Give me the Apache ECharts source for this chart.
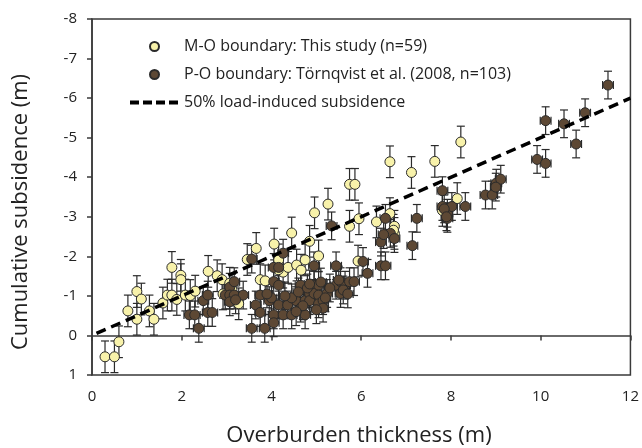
<!DOCTYPE html>
<html lang="en">
<head>
    <meta charset="UTF-8">
    <title>Cumulative subsidence</title>
    <script src="https://cdn.jsdelivr.net/npm/echarts@6/dist/echarts.min.js"></script>
</head>
<body style="margin:0">
<div id="main" style="width: 642px;height:448px;"></div>

<script type="text/javascript">
    // M-O boundary, this study (yellow)
    var moX = [0.29, 0.50, 0.60, 0.80, 1.00, 1.00, 1.10, 1.28, 1.38, 1.58, 1.68, 1.78, 1.78, 1.89, 1.98, 1.98,
        2.08, 2.19, 2.30, 2.59, 2.79, 2.90, 3.07, 3.27, 3.46, 3.66, 3.75, 3.86, 4.06, 4.16, 4.26, 4.37,
        4.45, 4.56, 4.66, 4.75, 4.85, 4.96, 5.05, 5.26, 5.74, 5.86, 5.74, 5.95, 5.93, 6.34, 6.64, 6.64,
        6.74, 6.74, 7.12, 7.64, 7.81, 8.14, 8.22, 2.92, 4.15, 6.72, 3.12];
    var moY = [0.54, 0.54, 0.16, -0.62, -1.11, -0.41, -0.92, -0.62, -0.41, -0.82, -1.02, -1.72, -1.02, -0.91, -1.52, -1.41,
        -1.02, -1.01, -1.12, -1.62, -1.51, -1.41, -1.32, -0.80, -1.92, -2.20, -1.41, -1.38, -2.31, -1.91, -1.60, -1.72,
        -2.59, -1.78, -1.65, -1.91, -2.38, -3.10, -2.01, -3.32, -3.82, -3.82, -2.76, -2.95, -1.88, -2.87, -4.39, -3.08,
        -2.76, -2.58, -4.12, -4.40, -3.16, -3.46, -4.89, -1.05, -1.66, -2.66, -1.15];

    // P-O boundary, Törnqvist et al. 2008 (brown)
    var poX = [2.17, 2.29, 2.38, 2.48, 2.58, 2.58, 2.68, 2.97, 3.07, 3.07, 3.17, 3.17, 3.37, 3.07, 3.56, 3.56,
        3.65, 3.75, 3.75, 3.85, 3.95, 4.05, 4.05, 4.05, 4.05, 4.16, 4.16, 4.16, 4.26, 4.26, 4.36, 4.45,
        4.55, 4.65, 4.65, 4.75, 4.75, 4.85, 4.85, 4.95, 4.95, 4.95, 5.05, 5.05, 5.05, 5.15, 5.15, 5.24,
        5.34, 5.44, 5.44, 5.54, 5.54, 5.64, 5.74, 5.84, 6.04, 6.14, 6.44, 6.44, 6.54, 6.54, 6.65, 6.74,
        7.14, 7.24, 7.81, 7.81, 7.92, 7.92, 8.02, 8.32, 8.77, 8.92, 9.01, 9.11, 9.92, 10.11, 10.11, 10.52,
        10.79, 10.99, 11.50,
        4.45, 4.60, 4.80, 4.70, 5.00, 5.30, 5.10, 5.60, 5.70, 5.50, 4.30, 4.00, 3.90, 4.85, 5.20, 4.55,
        6.50, 7.85, 7.90, 9.00, 3.20];
    var poY = [-0.52, -0.52, -0.18, -0.88, -1.02, -0.58, -0.58, -1.02, -1.22, -1.02, -1.36, -1.02, -1.02, -0.85, -1.93, -0.18,
        -0.77, -1.02, -0.58, -0.18, -0.88, -1.72, -1.36, -0.52, -0.32, -1.72, -1.27, -0.77, -2.08, -0.52, -0.77, -0.52,
        -0.88, -1.27, -0.69, -0.88, -0.52, -1.06, -0.88, -1.76, -1.27, -1.06, -1.27, -1.02, -0.80, -0.88, -0.69, -1.06,
        -2.77, -1.76, -1.27, -1.36, -1.06, -1.27, -1.36, -1.36, -1.87, -1.57, -2.36, -1.76, -2.96, -1.76, -2.58, -2.45,
        -2.27, -2.96, -3.66, -3.26, -2.96, -3.09, -3.26, -3.26, -3.55, -3.55, -3.85, -3.95, -4.45, -4.35, -5.43, -5.35,
        -4.84, -5.63, -6.33,
        -0.95, -1.10, -1.20, -0.75, -0.65, -1.20, -1.35, -1.15, -1.05, -1.40, -1.00, -0.95, -1.05, -1.30, -0.95, -0.60,
        -2.55, -3.20, -3.00, -3.75, -0.90];

    var moErr = 0.4;
    var poErr = 0.35;
    var poErrX = 0.12;

    // 50% load-induced subsidence line
    var lineX = [0.1, 12];
    var lineY = [-0.05, -6];

    var names = ['M-O boundary: This study (n=59)', 'P-O boundary: Törnqvist et al. (2008, n=103)', '50% load-induced subsidence'];

    function pairs(xs, ys, e, ex) {
        return xs.map(function (x, i) { return [x, ys[i], e, ex || 0]; });
    }

    function errBar(params, api) {
        var x = api.value(0), y = api.value(1), e = api.value(2), ex = api.value(3);
        var top = api.coord([x, y - e]);
        var bot = api.coord([x, y + e]);
        var cap = 4;
        var st = { stroke: '#2a2a2a', lineWidth: 1.2 };
        var kids = [
            { type: 'line', shape: { x1: top[0], y1: top[1], x2: bot[0], y2: bot[1] }, style: st },
            { type: 'line', shape: { x1: top[0] - cap, y1: top[1], x2: top[0] + cap, y2: top[1] }, style: st },
            { type: 'line', shape: { x1: bot[0] - cap, y1: bot[1], x2: bot[0] + cap, y2: bot[1] }, style: st }
        ];
        if (ex > 0) {
            var l = api.coord([x - ex, y]);
            var r = api.coord([x + ex, y]);
            kids.push(
                { type: 'line', shape: { x1: l[0], y1: l[1], x2: r[0], y2: r[1] }, style: st },
                { type: 'line', shape: { x1: l[0], y1: l[1] - cap, x2: l[0], y2: l[1] + cap }, style: st },
                { type: 'line', shape: { x1: r[0], y1: r[1] - cap, x2: r[0], y2: r[1] + cap }, style: st }
            );
        }
        return { type: 'group', children: kids };
    }

    var myChart = echarts.init(document.getElementById('main'));

    var axisCommon = {
        axisLine: { lineStyle: { color: '#3a3a3a', width: 1.5 } },
        axisTick: { show: true, inside: false, length: 5, lineStyle: { color: '#3a3a3a', width: 1.5 } },
        splitLine: { show: false },
        axisLabel: { color: '#222', fontSize: 15, fontFamily: 'Open Sans' }
    };

    option = {
        animation: false,
        textStyle: { fontFamily: 'Open Sans' },
        grid: {
            left: 92, right: 10, top: 19, bottom: 73,
            show: true, borderColor: '#3a3a3a', borderWidth: 1.5
        },
        legend: {
            orient: 'vertical',
            left: 123,
            top: 33,
            itemWidth: 49,
            itemHeight: 9,
            itemGap: 11,
            textStyle: { fontSize: 16, color: '#222', lineHeight: 17 },
            data: [
                { name: names[0], icon: 'circle' },
                { name: names[1], icon: 'circle' },
                { name: names[2], itemStyle: { opacity: 0 }, lineStyle: { width: 4, type: [9, 4] } }
            ]
        },
        xAxis: Object.assign({}, axisCommon, {
            type: 'value', min: 0, max: 12, interval: 2,
            axisLabel: Object.assign({}, axisCommon.axisLabel, { margin: 14 })
        }),
        yAxis: Object.assign({}, axisCommon, {
            type: 'value', min: -8, max: 1, interval: 1, inverse: true,
            axisLabel: Object.assign({}, axisCommon.axisLabel, { margin: 15 })
        }),
        graphic: [
            {
                type: 'text', x: 21, y: 212, rotation: Math.PI / 2,
                style: {
                    text: 'Cumulative subsidence (m)', fontSize: 22, fontFamily: 'Open Sans',
                    fill: '#222', textAlign: 'center', textVerticalAlign: 'middle'
                }
            },
            {
                type: 'text', x: 359, y: 436,
                style: {
                    text: 'Overburden thickness (m)', fontSize: 22, fontFamily: 'Open Sans',
                    fill: '#222', textAlign: 'center', textVerticalAlign: 'middle'
                }
            }
        ],
        series: [
            {
                name: 'moErr', type: 'custom', renderItem: errBar,
                data: pairs(moX, moY, moErr), z: 2, silent: true
            },
            {
                name: names[0], type: 'scatter',
                data: pairs(moX, moY, moErr), symbolSize: 10, z: 2,
                itemStyle: { color: '#f8f2aa', borderColor: '#2a2a2a', borderWidth: 1, opacity: 1 }
            },
            {
                name: 'poErr', type: 'custom', renderItem: errBar,
                data: pairs(poX, poY, poErr, poErrX), z: 2, silent: true
            },
            {
                name: names[1], type: 'scatter',
                data: pairs(poX, poY, poErr), symbolSize: 10, z: 2,
                itemStyle: { color: '#5d4834', borderColor: '#2a2a2a', borderWidth: 1, opacity: 1 }
            },
            {
                name: names[2], type: 'line',
                data: lineX.map(function (x, i) { return [x, lineY[i]]; }),
                symbol: 'none', z: 3,
                lineStyle: { color: '#000', width: 3.5, type: [10, 6] },
                itemStyle: { color: '#000' }
            }
        ]
    };

    myChart.setOption(option);
</script>
</body>
</html>
